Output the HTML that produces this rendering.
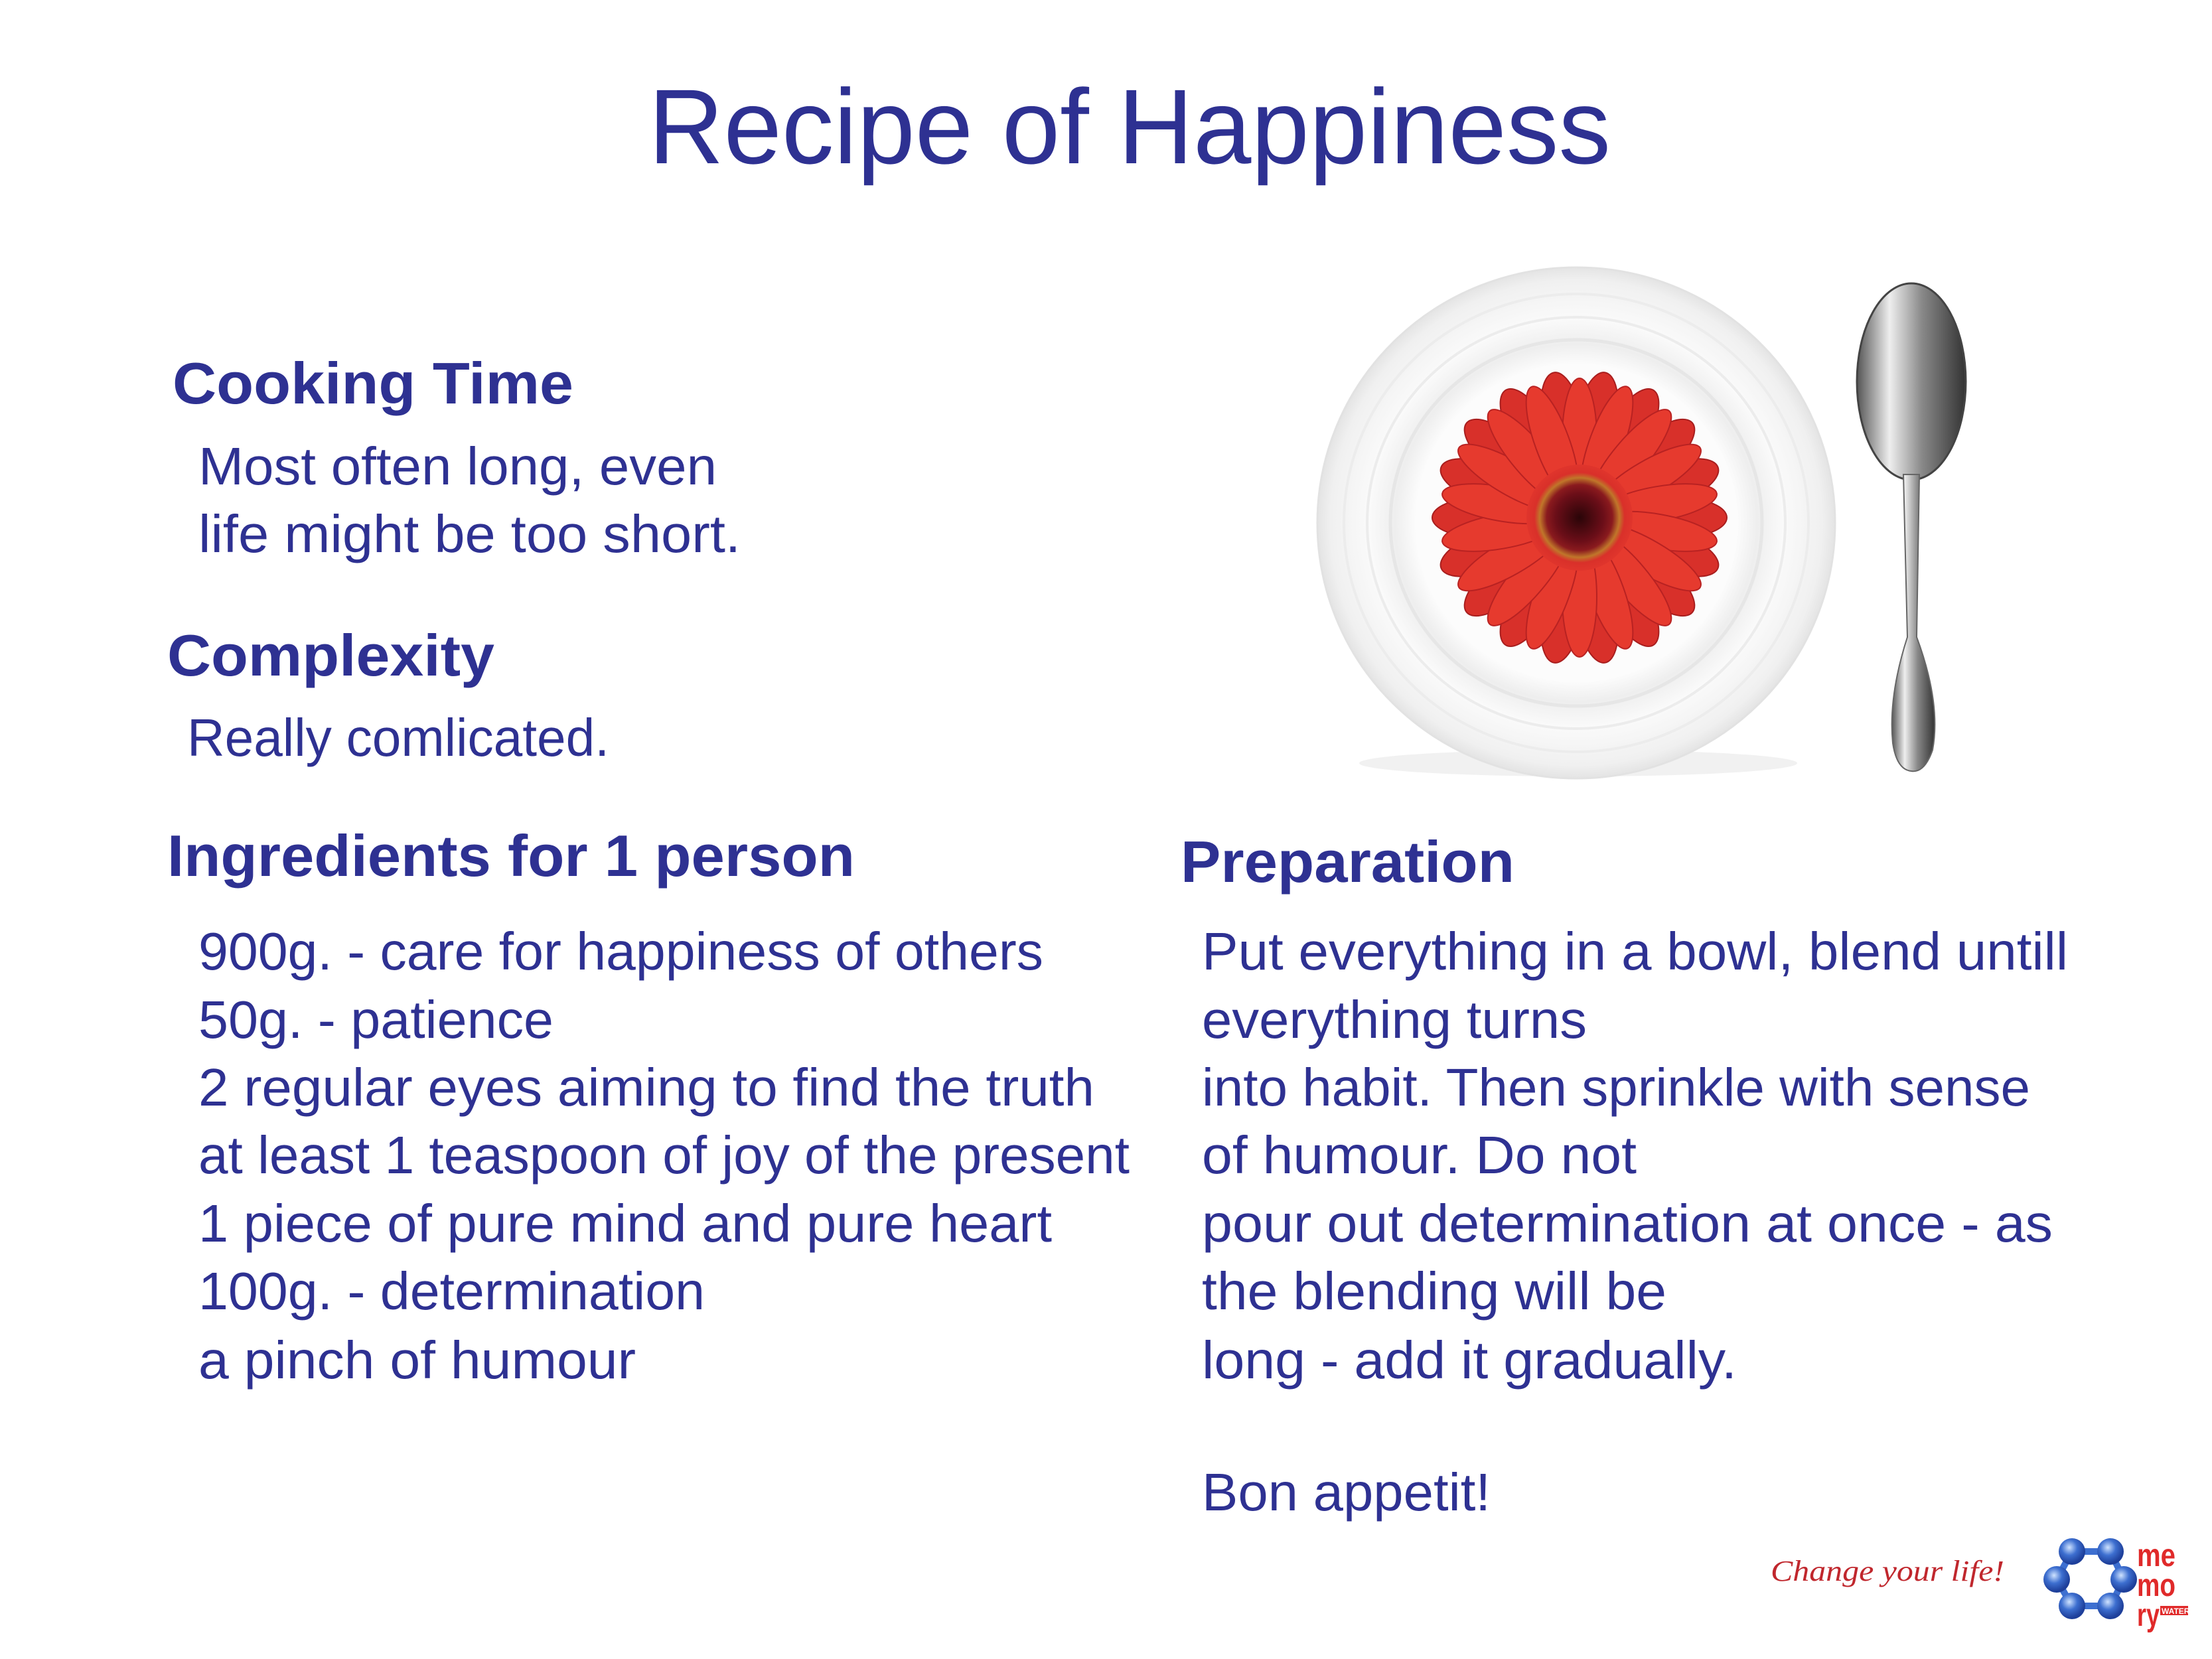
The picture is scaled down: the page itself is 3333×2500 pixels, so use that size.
<!DOCTYPE html>
<html><head><meta charset="utf-8"><style>html,body{margin:0;padding:0;background:#fff}svg{display:block}</style></head><body>
<svg width="3333" height="2500" viewBox="0 0 3333 2500" xmlns="http://www.w3.org/2000/svg">
<defs>
<radialGradient id="plate" cx="50%" cy="50%" r="50%">
<stop offset="0" stop-color="#ffffff"/><stop offset="0.62" stop-color="#fcfcfc"/><stop offset="0.7" stop-color="#eeeeee"/><stop offset="0.8" stop-color="#fafafa"/><stop offset="0.95" stop-color="#f0f0f0"/><stop offset="1" stop-color="#e4e4e4"/>
</radialGradient>
<radialGradient id="flower" cx="50%" cy="50%" r="50%">
<stop offset="0" stop-color="#2a0508"/><stop offset="0.45" stop-color="#6b0e18"/><stop offset="0.62" stop-color="#8a1a1e"/><stop offset="0.75" stop-color="#c0762a"/><stop offset="0.85" stop-color="#d9302a"/><stop offset="1" stop-color="#e0352c"/>
</radialGradient>
<linearGradient id="spoon" x1="0" x2="1">
<stop offset="0" stop-color="#555"/><stop offset="0.3" stop-color="#eee"/><stop offset="0.6" stop-color="#888"/><stop offset="1" stop-color="#333"/>
</linearGradient>
<radialGradient id="ball" cx="40%" cy="35%" r="60%"><stop offset="0" stop-color="#cfe3ff"/><stop offset="0.5" stop-color="#3d6fd0"/><stop offset="1" stop-color="#1e3f9a"/></radialGradient>
</defs>
<g font-family="Liberation Sans, sans-serif" fill="#2e3192" transform="translate(-4,-6)">
<text x="1706" y="252" font-size="160" text-anchor="middle" textLength="1450" lengthAdjust="spacingAndGlyphs">Recipe of Happiness</text>
<g font-weight="bold" font-size="88">
<text x="264" y="614" textLength="604" lengthAdjust="spacingAndGlyphs">Cooking Time</text>
<text x="256" y="1024" textLength="493" lengthAdjust="spacingAndGlyphs">Complexity</text>
<text x="256" y="1326" textLength="1036" lengthAdjust="spacingAndGlyphs">Ingredients for 1 person</text>
<text x="1783" y="1335" textLength="503" lengthAdjust="spacingAndGlyphs">Preparation</text>
</g>
<g font-size="80">
<text x="303" y="736" textLength="781" lengthAdjust="spacingAndGlyphs">Most often long, even</text>
<text x="303" y="838" textLength="817" lengthAdjust="spacingAndGlyphs">life might be too short.</text>
<text x="286" y="1145" textLength="636" lengthAdjust="spacingAndGlyphs">Really comlicated.</text>
<text x="303" y="1467" textLength="1273" lengthAdjust="spacingAndGlyphs">900g. - care for happiness of others</text>
<text x="303" y="1570" textLength="535" lengthAdjust="spacingAndGlyphs">50g. - patience</text>
<text x="303" y="1672" textLength="1350" lengthAdjust="spacingAndGlyphs">2 regular eyes aiming to find the truth</text>
<text x="303" y="1774" textLength="1403" lengthAdjust="spacingAndGlyphs">at least 1 teaspoon of joy of the present</text>
<text x="303" y="1877" textLength="1286" lengthAdjust="spacingAndGlyphs">1 piece of pure mind and pure heart</text>
<text x="303" y="1979" textLength="763" lengthAdjust="spacingAndGlyphs">100g. - determination</text>
<text x="303" y="2083" textLength="659" lengthAdjust="spacingAndGlyphs">a pinch of humour</text>
<text x="1815" y="1467" textLength="1305" lengthAdjust="spacingAndGlyphs">Put everything in a bowl, blend untill</text>
<text x="1815" y="1570" textLength="580" lengthAdjust="spacingAndGlyphs">everything turns</text>
<text x="1815" y="1672" textLength="1248" lengthAdjust="spacingAndGlyphs">into habit. Then sprinkle with sense</text>
<text x="1815" y="1774" textLength="655" lengthAdjust="spacingAndGlyphs">of humour. Do not</text>
<text x="1815" y="1877" textLength="1282" lengthAdjust="spacingAndGlyphs">pour out determination at once - as</text>
<text x="1815" y="1979" textLength="700" lengthAdjust="spacingAndGlyphs">the blending will be</text>
<text x="1815" y="2083" textLength="806" lengthAdjust="spacingAndGlyphs">long - add it gradually.</text>
<text x="1815" y="2282" textLength="435" lengthAdjust="spacingAndGlyphs">Bon appetit!</text>
</g>
</g>
<!-- plate -->
<ellipse cx="2378" cy="1150" rx="330" ry="20" fill="#e8e8e8" opacity="0.6"/>
<ellipse cx="2375" cy="788" rx="390" ry="385" fill="url(#plate)" stroke="#e2e2e2" stroke-width="3"/>
<ellipse cx="2375" cy="788" rx="350" ry="345" fill="none" stroke="#ececec" stroke-width="4"/>
<ellipse cx="2375" cy="788" rx="315" ry="310" fill="none" stroke="#ececec" stroke-width="4"/>
<ellipse cx="2375" cy="788" rx="280" ry="276" fill="none" stroke="#e6e6e6" stroke-width="5"/>
<!-- flower -->
<g transform="translate(2380,780)">
<g fill="#d8302a" stroke="#a81e1e" stroke-width="2">
<ellipse cx="0" cy="-150" rx="30" ry="72" transform="rotate(10)"/>
<ellipse cx="0" cy="-150" rx="30" ry="72" transform="rotate(30)"/>
<ellipse cx="0" cy="-150" rx="30" ry="72" transform="rotate(50)"/>
<ellipse cx="0" cy="-150" rx="30" ry="72" transform="rotate(70)"/>
<ellipse cx="0" cy="-150" rx="30" ry="72" transform="rotate(90)"/>
<ellipse cx="0" cy="-150" rx="30" ry="72" transform="rotate(110)"/>
<ellipse cx="0" cy="-150" rx="30" ry="72" transform="rotate(130)"/>
<ellipse cx="0" cy="-150" rx="30" ry="72" transform="rotate(150)"/>
<ellipse cx="0" cy="-150" rx="30" ry="72" transform="rotate(170)"/>
<ellipse cx="0" cy="-150" rx="30" ry="72" transform="rotate(190)"/>
<ellipse cx="0" cy="-150" rx="30" ry="72" transform="rotate(210)"/>
<ellipse cx="0" cy="-150" rx="30" ry="72" transform="rotate(230)"/>
<ellipse cx="0" cy="-150" rx="30" ry="72" transform="rotate(250)"/>
<ellipse cx="0" cy="-150" rx="30" ry="72" transform="rotate(270)"/>
<ellipse cx="0" cy="-150" rx="30" ry="72" transform="rotate(290)"/>
<ellipse cx="0" cy="-150" rx="30" ry="72" transform="rotate(310)"/>
<ellipse cx="0" cy="-150" rx="30" ry="72" transform="rotate(330)"/>
<ellipse cx="0" cy="-150" rx="30" ry="72" transform="rotate(350)"/>
</g>
<g fill="#e63a2e" stroke="#b82222" stroke-width="2">
<ellipse cx="0" cy="-120" rx="26" ry="90" transform="rotate(0)"/>
<ellipse cx="0" cy="-120" rx="26" ry="90" transform="rotate(20)"/>
<ellipse cx="0" cy="-120" rx="26" ry="90" transform="rotate(40)"/>
<ellipse cx="0" cy="-120" rx="26" ry="90" transform="rotate(60)"/>
<ellipse cx="0" cy="-120" rx="26" ry="90" transform="rotate(80)"/>
<ellipse cx="0" cy="-120" rx="26" ry="90" transform="rotate(100)"/>
<ellipse cx="0" cy="-120" rx="26" ry="90" transform="rotate(120)"/>
<ellipse cx="0" cy="-120" rx="26" ry="90" transform="rotate(140)"/>
<ellipse cx="0" cy="-120" rx="26" ry="90" transform="rotate(160)"/>
<ellipse cx="0" cy="-120" rx="26" ry="90" transform="rotate(180)"/>
<ellipse cx="0" cy="-120" rx="26" ry="90" transform="rotate(200)"/>
<ellipse cx="0" cy="-120" rx="26" ry="90" transform="rotate(220)"/>
<ellipse cx="0" cy="-120" rx="26" ry="90" transform="rotate(240)"/>
<ellipse cx="0" cy="-120" rx="26" ry="90" transform="rotate(260)"/>
<ellipse cx="0" cy="-120" rx="26" ry="90" transform="rotate(280)"/>
<ellipse cx="0" cy="-120" rx="26" ry="90" transform="rotate(300)"/>
<ellipse cx="0" cy="-120" rx="26" ry="90" transform="rotate(320)"/>
<ellipse cx="0" cy="-120" rx="26" ry="90" transform="rotate(340)"/>
</g>
<circle r="80" fill="url(#flower)"/>
</g>
<!-- spoon -->
<ellipse cx="2880" cy="575" rx="82" ry="148" fill="url(#spoon)" stroke="#444" stroke-width="3"/>
<path d="M2868 715 L2892 715 L2888 960 Q2925 1060 2912 1130 Q2900 1165 2880 1162 Q2858 1160 2852 1120 Q2845 1050 2874 960 Z" fill="url(#spoon)" stroke="#666" stroke-width="2"/>
<!-- logo -->
<text x="2668" y="2382" font-family="Liberation Serif, serif" font-style="italic" font-size="44" fill="#c0272d" textLength="352" lengthAdjust="spacingAndGlyphs">Change your life!</text>
<polygon points="3122,2338 3180,2338 3200,2380 3180,2420 3122,2420 3099,2380" fill="none" stroke="#3d6fd0" stroke-width="10"/>
<g fill="url(#ball)">
<circle cx="3122" cy="2338" r="20"/><circle cx="3180" cy="2338" r="20"/>
<circle cx="3099" cy="2380" r="20"/><circle cx="3200" cy="2380" r="20"/>
<circle cx="3122" cy="2420" r="20"/><circle cx="3180" cy="2420" r="20"/>
</g>
<g font-family="Liberation Sans, sans-serif" font-weight="bold" fill="#e02a2a" font-size="48">
<text x="3220" y="2360" textLength="58" lengthAdjust="spacingAndGlyphs">me</text>
<text x="3220" y="2405" textLength="58" lengthAdjust="spacingAndGlyphs">mo</text>
<text x="3220" y="2450" textLength="34" lengthAdjust="spacingAndGlyphs">ry</text>
<rect x="3255" y="2420" width="42" height="14" fill="#e02a2a"/>
<text x="3257" y="2432" font-size="12" fill="#fff">WATER</text>
</g>
</svg>
</body></html>
